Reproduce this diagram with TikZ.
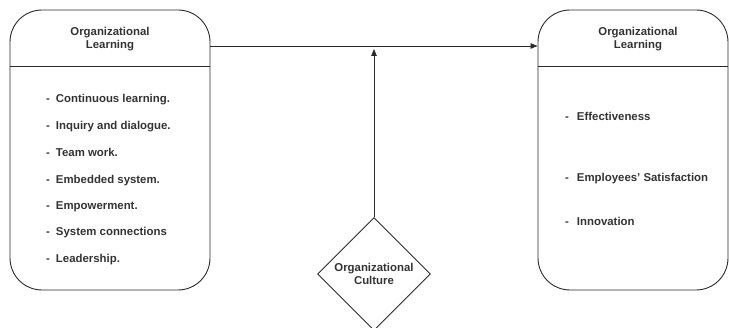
\documentclass[tikz,border=0pt]{standalone}
\usepackage{fontspec}
\setmainfont{Liberation Sans}
\usetikzlibrary{shapes.geometric,arrows.meta}
\definecolor{ink}{HTML}{2A2A2A}
\definecolor{txt}{HTML}{333333}
\begin{document}
\begin{tikzpicture}[x=1pt,y=-1pt,
  box/.style={draw=ink,line width=0.9pt,rounded corners=32pt,rectangle,inner sep=0pt},
  title/.style={align=center,font=\bfseries\fontsize{11.4}{12.5}\selectfont,text=txt},
  item/.style={anchor=base west,font=\bfseries\fontsize{11.4}{12}\selectfont,text=txt,inner sep=0pt},
  conn/.style={draw=ink,line width=0.8pt,-{Triangle[length=7pt,width=5.5pt]}},
  dia/.style={draw=ink,line width=0.9pt,diamond,aspect=1,minimum width=113pt,minimum height=113pt,inner sep=0pt}]
\useasboundingbox (0,0) rectangle (729,328);
% left box
\node[box,minimum width=200pt,minimum height=280pt] (lbox) at (110,150) {};
\node[title] (ltitle) at (110,39) {Organizational\\Learning};
\draw[draw=ink,line width=0.9pt] (lbox.west |- 0,66) coordinate (lh1) -- (lbox.east |- 0,66) coordinate (lh2);
\node[item] (l1) at (46,103) {-\hspace{6pt}Continuous learning.};
\node[item] (l2) at (46,129.5) {-\hspace{6pt}Inquiry and dialogue.};
\node[item] (l3) at (46,156.5) {-\hspace{6pt}Team work.};
\node[item] (l4) at (46,183.5) {-\hspace{6pt}Embedded system.};
\node[item] (l5) at (46,210) {-\hspace{6pt}Empowerment.};
\node[item] (l6) at (46,236) {-\hspace{6pt}System connections};
\node[item] (l7) at (46,262.5) {-\hspace{6pt}Leadership.};
% right box
\node[box,minimum width=190pt,minimum height=280pt] (rbox) at (633,150) {};
\node[title] (rtitle) at (638,39) {Organizational\\Learning};
\draw[draw=ink,line width=0.9pt] (rbox.west |- 0,66) -- (rbox.east |- 0,66);
\node[item] (r1) at (565,121) {-\hspace{8pt}Effectiveness};
\node[item] (r2) at (565,182) {-\hspace{8pt}Employees' Satisfaction};
\node[item] (r3) at (565,226) {-\hspace{8pt}Innovation};
% diamond
\node[dia,title] (dia) at (374,274) {Organizational\\Culture};
% connectors
\coordinate (hl) at (0,46);
\coordinate (vt) at (0,49);
\draw[conn] (lbox.east |- hl) -- (rbox.west |- hl);
\draw[conn] (dia.north) -- (dia.north |- vt);
\end{tikzpicture}
\end{document}
